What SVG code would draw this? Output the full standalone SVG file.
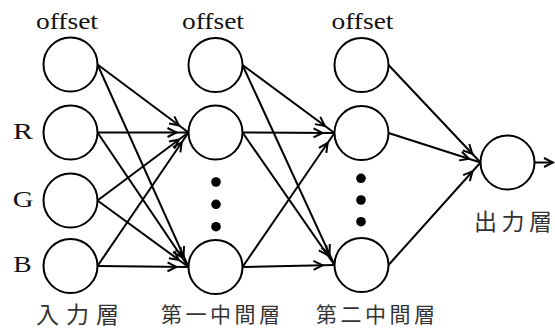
<svg xmlns="http://www.w3.org/2000/svg" width="555" height="328" viewBox="0 0 555 328">
<style>
.node circle{fill:#fff;stroke:#000;stroke-width:2}
.dot{fill:#000}
.lat{font-family:"Liberation Serif","Times New Roman",serif;font-weight:normal;fill:#111}
.cjk{font-family:"Noto Sans CJK JP","Noto Sans CJK SC",sans-serif;fill:#333}
#edges line{stroke:#000;stroke-width:2;fill:none;marker-end:url(#ah)}
#edges line.out{marker-end:url(#ah2)}
</style>
<defs>
<marker id="ah" markerUnits="userSpaceOnUse" refX="12" refY="0" markerWidth="20" markerHeight="20" orient="auto" overflow="visible">
<path d="M-9,-4.5 L0,0 L-9,4.5" fill="none" stroke="#000" stroke-width="2"/>
</marker>
<marker id="ah2" markerUnits="userSpaceOnUse" refX="0" refY="0" markerWidth="20" markerHeight="20" orient="auto" overflow="visible">
<path d="M-9,-4.5 L0,0 L-9,4.5" fill="none" stroke="#000" stroke-width="2"/>
</marker>
</defs>
<rect width="555" height="328" fill="#fff"/>

<g id="edges">
<line x1="97.5" y1="64.5" x2="188.5" y2="132.5"/>
<line x1="97.5" y1="64.5" x2="188.5" y2="267"/>
<line x1="97.5" y1="132.5" x2="188.5" y2="132.5"/>
<line x1="97.5" y1="132.5" x2="188.5" y2="267"/>
<line x1="97.5" y1="200.5" x2="188.5" y2="132.5"/>
<line x1="97.5" y1="200.5" x2="188.5" y2="267"/>
<line x1="97.5" y1="266" x2="188.5" y2="132.5"/>
<line x1="97.5" y1="266" x2="188.5" y2="267"/>
<line x1="242.5" y1="65" x2="334.5" y2="133"/>
<line x1="242.5" y1="65" x2="334.5" y2="265"/>
<line x1="242.5" y1="132.5" x2="334.5" y2="133"/>
<line x1="242.5" y1="132.5" x2="334.5" y2="265"/>
<line x1="242.5" y1="267" x2="334.5" y2="133"/>
<line x1="242.5" y1="267" x2="334.5" y2="265"/>
<line x1="388.5" y1="65" x2="480.5" y2="162.5"/>
<line x1="388.5" y1="133" x2="480.5" y2="162.5"/>
<line x1="388.5" y1="265" x2="480.5" y2="162.5"/>
<line class="out" x1="534.5" y1="162.5" x2="553" y2="162.5"/>
</g>

<g id="in_offset" class="node"><circle cx="70.5" cy="64.5" r="27"/><text class="lat" x="67" y="29" font-size="23" text-anchor="middle" textLength="62" lengthAdjust="spacingAndGlyphs">offset</text></g>
<g id="in_R" class="node"><circle cx="70.5" cy="132.5" r="27"/><text class="lat" x="13" y="138.5" font-size="24" textLength="20" lengthAdjust="spacingAndGlyphs">R</text></g>
<g id="in_G" class="node"><circle cx="70.5" cy="200.5" r="27"/><text class="lat" x="12.7" y="207" font-size="24" textLength="20.6" lengthAdjust="spacingAndGlyphs">G</text></g>
<g id="in_B" class="node"><circle cx="70.5" cy="266" r="27"/><text class="lat" x="13.3" y="271.7" font-size="24" textLength="18.4" lengthAdjust="spacingAndGlyphs">B</text></g>
<g id="input_label"><text class="cjk" x="36" y="322.5" font-size="23" letter-spacing="7">入力層</text></g>

<g id="h1_offset" class="node"><circle cx="215.5" cy="65" r="27"/><text class="lat" x="213" y="29" font-size="23" text-anchor="middle" textLength="62" lengthAdjust="spacingAndGlyphs">offset</text></g>
<g id="h1_1" class="node"><circle cx="215.5" cy="132.5" r="27"/></g>
<g id="h1_dots"><circle class="dot" cx="216" cy="182" r="4.8"/><circle class="dot" cx="216" cy="204.3" r="4.8"/><circle class="dot" cx="216" cy="226.7" r="4.8"/></g>
<g id="h1_n" class="node"><circle cx="215.5" cy="267" r="27"/></g>
<g id="h1_label"><text class="cjk" x="161" y="321.5" font-size="21" letter-spacing="3.5">第一中間層</text></g>

<g id="h2_offset" class="node"><circle cx="361.5" cy="65" r="27"/><text class="lat" x="362.5" y="29" font-size="23" text-anchor="middle" textLength="62" lengthAdjust="spacingAndGlyphs">offset</text></g>
<g id="h2_1" class="node"><circle cx="361.5" cy="133" r="27"/></g>
<g id="h2_dots"><circle class="dot" cx="361" cy="178.3" r="4.8"/><circle class="dot" cx="361" cy="200" r="4.8"/><circle class="dot" cx="361" cy="221.7" r="4.8"/></g>
<g id="h2_n" class="node"><circle cx="361.5" cy="265" r="27"/></g>
<g id="h2_label"><text class="cjk" x="316" y="321.5" font-size="21" letter-spacing="3.5">第二中間層</text></g>

<g id="output" class="node"><circle cx="507.5" cy="162.5" r="27"/><text class="cjk" x="474" y="230" font-size="23" letter-spacing="4.5">出力層</text></g>
</svg>
